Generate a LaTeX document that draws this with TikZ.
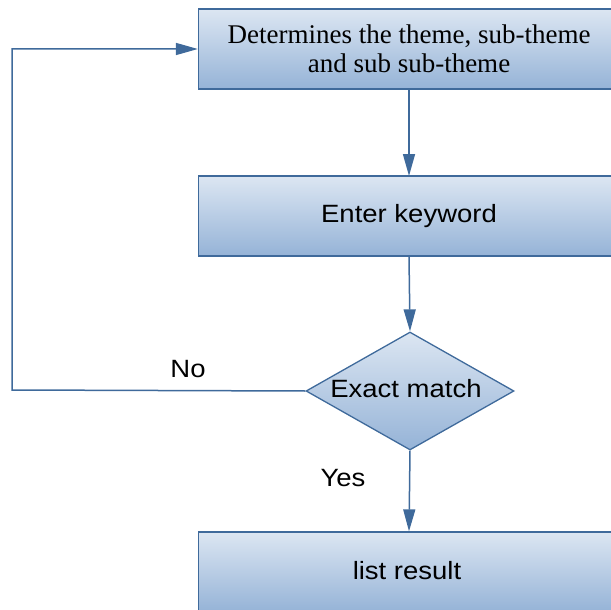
\documentclass[tikz,border=0pt]{standalone}
\usepackage{fontspec}
\setmainfont{Liberation Serif}
\setsansfont{Liberation Sans}[FakeStretch=1.1]
\usetikzlibrary{shapes.geometric,arrows.meta}
\definecolor{edgeblue}{HTML}{3F6A9B}
\definecolor{filltop}{HTML}{DCE6F2}
\definecolor{fillbot}{HTML}{95B3D7}
\tikzset{
  flowbox/.style={draw=edgeblue, line width=1.3pt, top color=filltop, bottom color=fillbot,
    minimum width=421pt, minimum height=80pt, inner sep=0pt, align=center},
  decision/.style={diamond, draw=edgeblue, line width=1.3pt, top color=filltop, bottom color=fillbot,
    minimum width=208pt, minimum height=118pt, inner sep=0pt, aspect=1.76},
  link/.style={draw=edgeblue, line width=1.5pt, -{Triangle[length=22pt,width=12pt]}},
  sanslabel/.style={font=\sffamily\fontsize{25}{28}\selectfont},
}
\begin{document}
\begin{tikzpicture}[x=1pt,y=-1pt]
  \useasboundingbox (0,0) rectangle (611,610);
  \clip (0,0) rectangle (611,610);
  \node[flowbox, font=\rmfamily\fontsize{27}{29.5}\selectfont] (theme) at (409,49)
    {Determines the theme, sub-theme\\and sub sub-theme};
  \node[flowbox, sanslabel] (keyword) at (409,216) {Enter keyword};
  \node[decision] (match) at (410,391) {};
  \node[sanslabel] (matchtext) at (406,389) {Exact match};
  \node[flowbox] (result) at (409,572) {};
  \node[sanslabel] (resulttext) at (407,571) {list result};
  \coordinate (loopbottom) at (12,390);
  \coordinate (looptop) at (12,49);
  \draw[link] (theme.south -| 409,0) -- (409,176);
  \draw[link] (keyword.south) -- (match.north);
  \draw[link] (match.south) -- (result.north);
  \draw[link] (match.west) -- (loopbottom) -- (looptop) -- (theme.west);
  \node[sanslabel] (nolabel) at (188,369) {No};
  \node[sanslabel] (yeslabel) at (343,478) {Yes};
\end{tikzpicture}
\end{document}
